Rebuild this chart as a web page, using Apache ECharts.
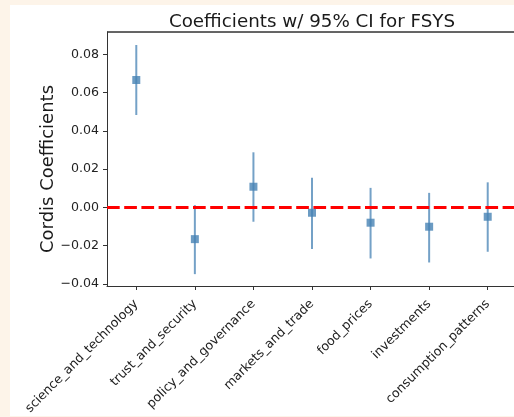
<!DOCTYPE html>
<html>
<head>
<meta charset="utf-8">
<script src="https://cdn.jsdelivr.net/npm/echarts@6/dist/echarts.min.js"></script>
<style>
html,body{margin:0;padding:0;width:514px;height:417px;overflow:hidden;background:#fdf4e9;}
#chart{position:absolute;left:10px;top:5px;width:510px;height:411px;background:#ffffff;}
</style>
</head>
<body>
<div id="chart"></div>
<script>
const categories = ["science_and_technology","trust_and_security","policy_and_governance","markets_and_trade","food_prices","investments","consumption_patterns"];
const coefficients = [0.0666, -0.0166, 0.0108, -0.0028, -0.0080, -0.0101, -0.0049];
const ciLower = [0.0483, -0.0349, -0.0075, -0.0218, -0.0267, -0.0288, -0.0232];
const ciUpper = [0.0849, 0.0012, 0.0288, 0.0155, 0.0102, 0.0076, 0.0131];
const yTicks = [-0.04, -0.02, 0.00, 0.02, 0.04, 0.06, 0.08];
const yMin = -0.0411, yMax = 0.0917;

const FONT = "DejaVu Sans";
const fmt = v => (v < 0 ? "\u2212" + Math.abs(v).toFixed(2) : v.toFixed(2));

const chart = echarts.init(document.getElementById('chart'), null, {renderer: 'canvas'});
chart.setOption({
  animation: false,
  title: {
    text: "Coefficients w/ 95% CI for FSYS",
    left: 297, top: 3, textAlign: 'center',
    textStyle: {fontFamily: FONT, fontSize: 18.3, fontWeight: 'normal', color: '#1a1a1a'}
  },
  grid: {left: 97, top: 27, width: 410, height: 254, containLabel: false, outerBoundsMode: 'none'},
  xAxis: {
    type: 'category',
    data: categories,
    boundaryGap: true,
    axisLine: {show: true, onZero: false, lineStyle: {color: '#333', width: 1}},
    axisTick: {show: true, alignWithLabel: true, length: 4, lineStyle: {color: '#333'}},
    axisLabel: {rotate: 45, interval: 0, margin: 16, fontFamily: FONT, fontSize: 12.6, color: '#222'},
    splitLine: {show: false}
  },
  yAxis: {
    type: 'value',
    min: yMin, max: yMax,
    axisLine: {show: true, onZero: false, lineStyle: {color: '#333', width: 1}},
    axisTick: {show: true, length: 4, lineStyle: {color: '#333'}, customValues: yTicks},
    axisLabel: {margin: 8, fontFamily: FONT, fontSize: 12.6, color: '#222', formatter: fmt, customValues: yTicks},
    splitLine: {show: false}
  },
  graphic: [
    {type: 'rect', shape: {x: 97, y: 27, width: 420, height: 0}, style: {stroke: '#333', lineWidth: 1, fill: 'none'}, silent: true},
    {type: 'text', x: 38, y: 164, rotation: Math.PI / 2,
      style: {text: "Cordis Coefficients", fontFamily: FONT, fontSize: 18, fill: '#1a1a1a', align: 'center', verticalAlign: 'middle'}}
  ],
  series: [
    {
      type: 'custom',
      data: categories.map((c, i) => [i, ciLower[i], ciUpper[i]]),
      encode: {x: 0, y: [1, 2]},
      renderItem: function (params, api) {
        const p1 = api.coord([api.value(0), api.value(1)]);
        const p2 = api.coord([api.value(0), api.value(2)]);
        return {type: 'line', shape: {x1: p1[0], y1: p1[1], x2: p2[0], y2: p2[1]},
          style: {stroke: 'rgba(70,130,180,0.75)', lineWidth: 2}};
      },
      z: 2
    },
    {
      type: 'scatter',
      data: coefficients.map((v, i) => [i, v]),
      symbol: 'rect', symbolSize: 8,
      itemStyle: {color: '#4682b4'},
      z: 4,
      markLine: {
        silent: true, symbol: 'none', label: {show: false},
        lineStyle: {color: '#ff0000', width: 3, type: [12.7, 4.5]},
        emphasis: {disabled: true},
        data: [{yAxis: 0}],
        z: 3
      }
    }
  ]
});
</script>
</body>
</html>
